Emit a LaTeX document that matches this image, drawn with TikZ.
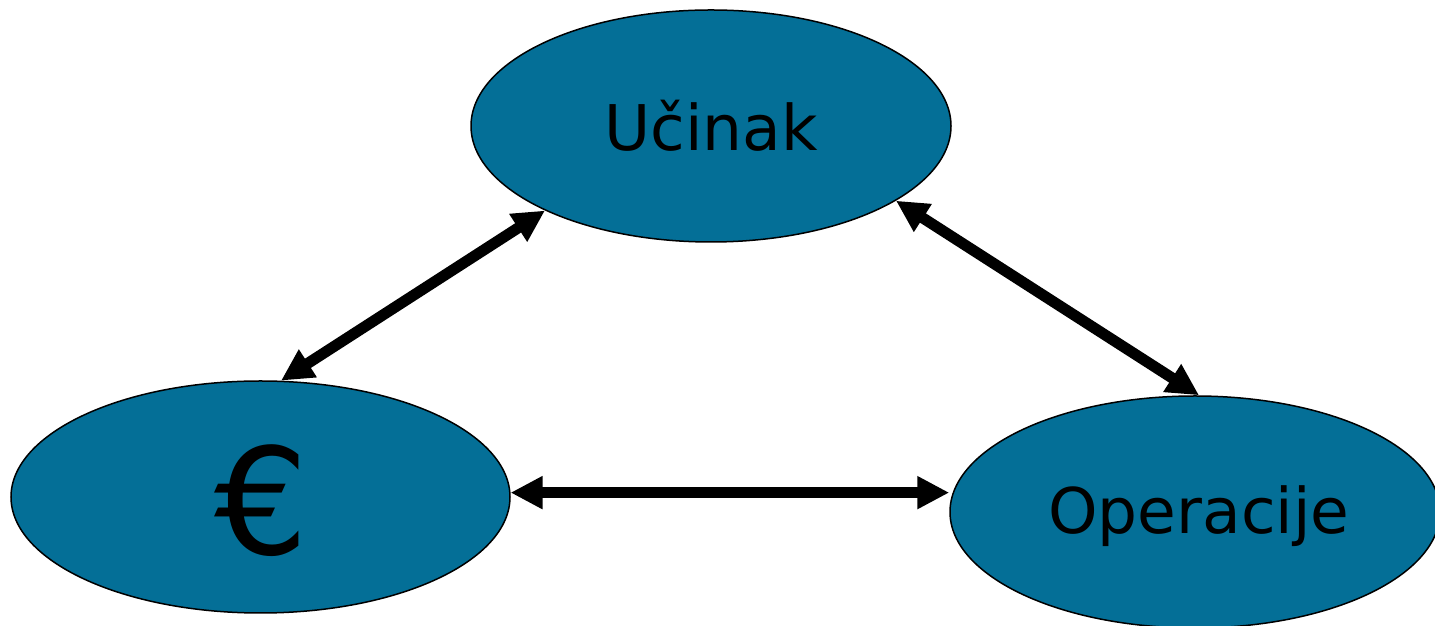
\documentclass[tikz,border=0pt]{standalone}
\usepackage{fontspec}
\setmainfont{DejaVu Sans}
\usetikzlibrary{shapes.geometric,arrows.meta}
\definecolor{nodeblue}{RGB}{4,111,151}
\tikzset{
  blob/.style={ellipse, draw=black, line width=1.5pt, fill=nodeblue, inner sep=0pt, minimum height=232pt},
  link/.style={line width=11pt, {Triangle[length=32pt,width=31pt]}-{Triangle[length=32pt,width=31pt]}},
  lbl/.style={font=\fontsize{63}{70}\selectfont}
}
\begin{document}
\begin{tikzpicture}[x=1pt,y=1pt]
\clip (0,0) rectangle (1435,626);
\fill[white] (0,0) rectangle (1435,626);
\node[blob, minimum width=480pt] (ucinak) at (711,500) {};
\node[blob, minimum width=499pt] (euro) at (260.5,129) {};
\node[blob, minimum width=490pt] (oper) at (1195,114) {};
\node[lbl] at (711,500) {Učinak};
\node[font=\fontsize{148}{160}\selectfont] at (262,125) {€};
\node[lbl] at (1199,110) {Operacije};
\draw[link] (ucinak.207.5) -- (euro.80.4);
\draw[link] (ucinak.338.6) -- (oper.88.5);
\draw[link] (euro.1.6) -- (euro.1.6 -| oper.west);
\end{tikzpicture}
\end{document}
